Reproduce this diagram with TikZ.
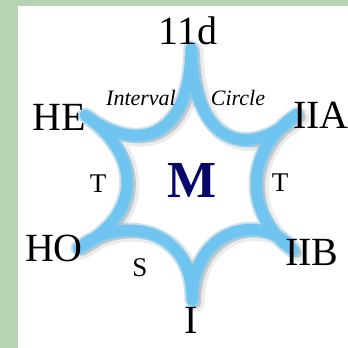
\documentclass[tikz,border=0pt]{standalone}
\usepackage{fontspec}
\setmainfont{Liberation Serif}
\definecolor{bg}{RGB}{182,212,178}
\definecolor{starblue}{RGB}{112,197,240}
\definecolor{mblue}{RGB}{8,8,105}
\newcommand{\starshape}[1]{%
  \draw[#1] (191,48) .. controls (189,152) and (125,147) .. (85,115)
    .. controls (142,155) and (142,215) .. (78,248)
    .. controls (120,215) and (192,225) .. (192,300)
    .. controls (192,225) and (265,212) .. (293,250)
    .. controls (243,215) and (243,150) .. (297,114)
    .. controls (255,157) and (193,152) .. cycle;}
\tikzset{
  big/.style={inner sep=0pt, font=\fontsize{40}{40}\selectfont},
  mid/.style={inner sep=0pt, font=\fontsize{27}{27}\selectfont},
  ital/.style={inner sep=0pt, font=\fontsize{22}{22}\selectfont\itshape},
  starline/.style={line join=round, line cap=round},
}
\begin{document}
\begin{tikzpicture}[x=1pt,y=-1pt]
\useasboundingbox (0,0) rectangle (348,348);
\fill[bg] (0,0) rectangle (348,348);
\fill[white] (18,6) rectangle (348,348);
% shadow
\begin{scope}[transform canvas={shift={(4,3)}}]
  \starshape{starline, line width=17pt, black!15, opacity=0.5}
  \starshape{starline, line width=10pt, black!30, opacity=0.6}
\end{scope}
% star
\starshape{starline, line width=15pt, starblue, opacity=0.45}
\starshape{starline, line width=11pt, starblue}
% labels
\node[big] (n11d) at (188,31) {11d};
\node[big] (nHE) at (59,117) {HE};
\node[big] (nIIA) at (321,115) {IIA};
\node[big] (nHO) at (54,248) {HO};
\node[big] (nIIB) at (312,252) {IIB};
\node[big] (nI) at (191,320) {I};
\node[mid] (tl) at (98,184) {T};
\node[mid] (tr) at (280,183) {T};
\node[mid] (s) at (140,268) {S};
\node[ital] (interval) at (141,98) {Interval};
\node[ital] (circle) at (238,98) {Circle};
\node[inner sep=0pt, font=\fontsize{52}{52}\selectfont\bfseries, mblue] (m) at (192,180) {M};
\end{tikzpicture}
\end{document}
